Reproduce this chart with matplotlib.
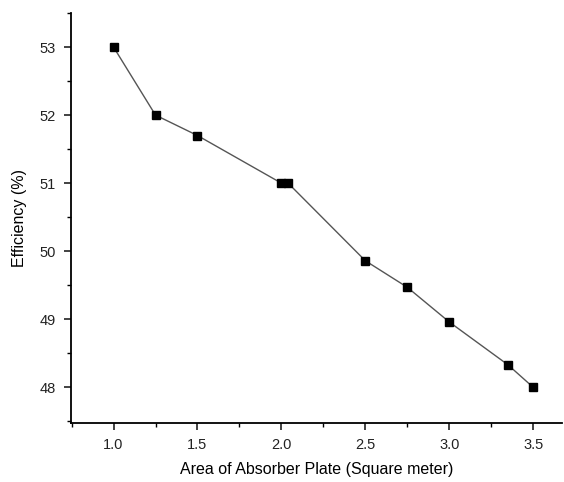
import matplotlib
matplotlib.use("Agg")
import matplotlib.pyplot as plt
from matplotlib.ticker import MultipleLocator

# data
AREA = [1.0, 1.25, 1.5, 2.0, 2.04, 2.5, 2.75, 3.0, 3.35, 3.5]
EFFICIENCY = [53.0, 52.0, 51.7, 51.0, 51.0, 49.86, 49.47, 48.96, 48.33, 48.0]

plt.rcParams["font.family"] = ["Liberation Sans", "DejaVu Sans"]

fig = plt.figure(figsize=(5.64, 4.82), dpi=100)
ax = fig.add_axes([0.126, 0.123, 0.870, 0.850])

ax.plot(AREA, EFFICIENCY, color="#555555", linewidth=1.0,
        marker="s", markersize=6, markerfacecolor="black",
        markeredgecolor="black")

ax.set_xlim(0.747, 3.67)
ax.set_ylim(47.48, 53.5)
ax.xaxis.set_major_locator(MultipleLocator(0.5))
ax.xaxis.set_minor_locator(MultipleLocator(0.25))
ax.yaxis.set_major_locator(MultipleLocator(1))
ax.yaxis.set_minor_locator(MultipleLocator(0.5))
ax.xaxis.set_major_formatter(plt.FormatStrFormatter("%.1f"))

for side in ("top", "right"):
    ax.spines[side].set_visible(False)
for side in ("left", "bottom"):
    ax.spines[side].set_linewidth(1.3)

ax.tick_params(which="major", direction="out", length=5, width=1.2,
               labelsize=10.5, colors="#222222", pad=6)
ax.tick_params(which="minor", direction="out", length=3, width=1.0)

ax.set_xlabel("Area of Absorber Plate (Square meter)", fontsize=11.5, labelpad=7)
ax.set_ylabel("Efficiency (%)", fontsize=11.5, labelpad=9)

fig.savefig("out.png", dpi=100)
